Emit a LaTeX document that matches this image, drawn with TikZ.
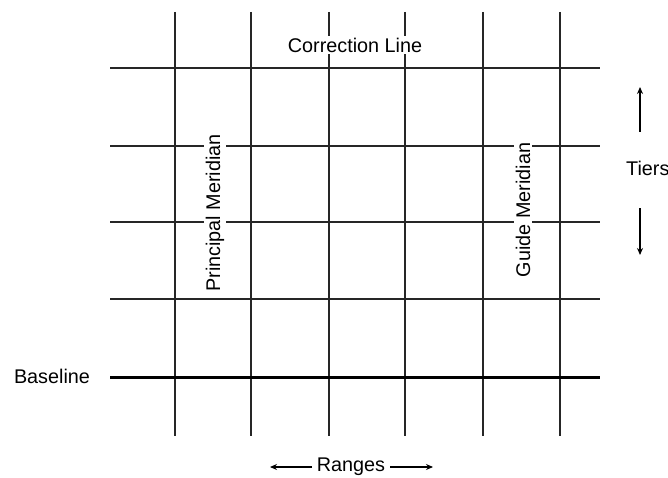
\documentclass[tikz,border=0pt]{standalone}
\usepackage{fontspec}
\setmainfont{Liberation Sans}
\usetikzlibrary{arrows.meta}
\begin{document}
\begin{tikzpicture}[x=1pt,y=-1pt,
  gridline/.style={line width=1.1pt,draw=black!85},
  baseline line/.style={line width=3pt},
  lbl/.style={font=\fontsize{19.8}{21}\selectfont,inner sep=2pt},
  boxlbl/.style={lbl,fill=white},
  arr/.style={line width=1.1pt,-{Stealth[length=7pt,width=6pt]}}]
\useasboundingbox (0,0) rectangle (668,478);
% vertical lines (meridians / range lines)
\foreach \i/\x in {1/175,2/251,3/329,4/405,5/483,6/560}{
  \coordinate (vt\i) at (\x,12);
  \coordinate (vb\i) at (\x,436);
  \draw[gridline] (vt\i) -- (vb\i);
}
% horizontal lines
\foreach \i/\y in {1/68,2/146,3/222,4/299}{
  \coordinate (hl\i) at (110,\y);
  \coordinate (hr\i) at (600,\y);
  \draw[gridline] (hl\i) -- (hr\i);
}
\coordinate (bl) at (110,377);
\coordinate (br) at (600,377);
\draw[baseline line] (bl) -- (br);
% labels
\node[boxlbl] (corr) at (355,45) {Correction Line};
\node[boxlbl,rotate=90] (pm) at (215,213) {Principal Meridian};
\node[boxlbl,rotate=90] (gm) at (523,210) {Guide Meridian};
\node[lbl] (base) at (52,376) {Baseline};
\node[lbl,anchor=west,inner sep=0pt] (tiers) at (626,168) {Tiers};
\node[lbl] (ranges) at (351,467) {Ranges};
% arrows
\coordinate (upS) at (640,132);
\coordinate (upE) at (640,87);
\coordinate (dnS) at (640,208);
\coordinate (dnE) at (640,255);
\draw[arr] (upS) -- (upE);
\draw[arr] (dnS) -- (dnE);
\coordinate (lS) at (312,467);
\coordinate (lE) at (270,467);
\coordinate (rS) at (390,467);
\coordinate (rE) at (433,467);
\draw[arr] (lS) -- (lE);
\draw[arr] (rS) -- (rE);
\end{tikzpicture}
\end{document}
